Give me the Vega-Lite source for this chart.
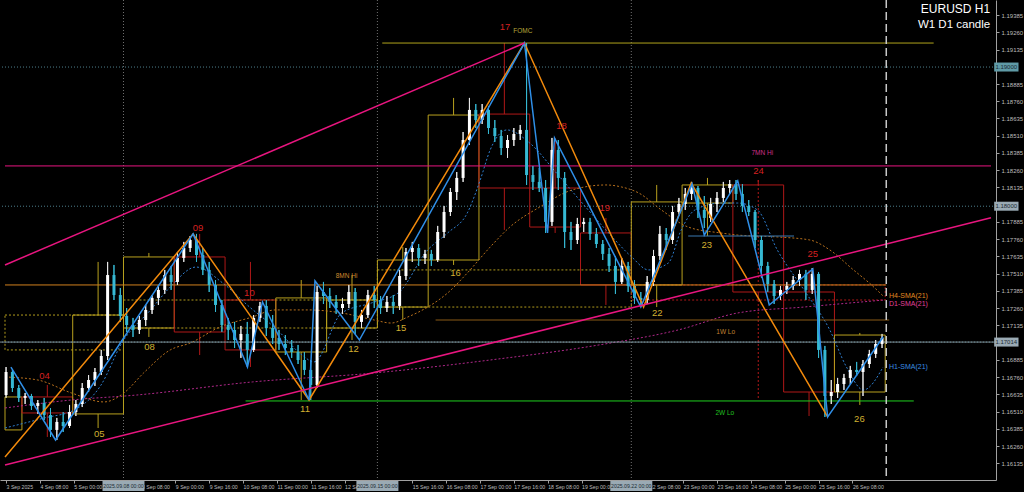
{
"$schema":"https://vega.github.io/schema/vega-lite/v6.json",
"width":996,"height":480,
"autosize":{"type":"none"},
"padding":{"left":0,"top":0,"right":28,"bottom":12},
"background":"#000000",
"config":{"view":{"stroke":null},
 "axis":{"grid":false,"labelOverlap":false,"labelFont":"Liberation Sans","labelColor":"#bcbcbc","tickColor":"#a0a0a0","tickSize":3,"domainColor":"#a0a0a0","labelBound":false,"labelFlush":false},
 "axisX":{"labelAlign":"left","labelBaseline":"top","labelPadding":1,"labelFontSize":5.2},
 "axisY":{"labelAlign":"left","labelBaseline":"middle","labelPadding":2,"labelFontSize":6}},
"resolve":{"scale":{"color":"independent","size":"independent"}},
"datasets":{
"candles":[
{"i":0,"o":1.16630,"h":1.16833,"l":1.16609,"c":1.16797},
{"i":3,"o":1.16797,"h":1.16812,"l":1.16652,"c":1.16681},
{"i":6,"o":1.16681,"h":1.16703,"l":1.16580,"c":1.16609},
{"i":9,"o":1.16609,"h":1.16645,"l":1.16565,"c":1.16623},
{"i":12,"o":1.16623,"h":1.16638,"l":1.16522,"c":1.16551},
{"i":15,"o":1.16551,"h":1.16594,"l":1.16493,"c":1.16572},
{"i":18,"o":1.16572,"h":1.16609,"l":1.16449,"c":1.16485},
{"i":21,"o":1.16485,"h":1.16536,"l":1.16326,"c":1.16377},
{"i":24,"o":1.16377,"h":1.16464,"l":1.16304,"c":1.16435},
{"i":27,"o":1.16435,"h":1.16507,"l":1.16362,"c":1.16406},
{"i":30,"o":1.16406,"h":1.16558,"l":1.16391,"c":1.16507},
{"i":33,"o":1.16507,"h":1.16594,"l":1.16478,"c":1.16565},
{"i":36,"o":1.16565,"h":1.16717,"l":1.16543,"c":1.16681},
{"i":39,"o":1.16681,"h":1.16775,"l":1.16652,"c":1.16739},
{"i":42,"o":1.16739,"h":1.16826,"l":1.16696,"c":1.16797},
{"i":45,"o":1.16797,"h":1.16957,"l":1.16775,"c":1.16913},
{"i":48,"o":1.16913,"h":1.17595,"l":1.16884,"c":1.17500},
{"i":51,"o":1.17500,"h":1.17573,"l":1.17319,"c":1.17355},
{"i":54,"o":1.17355,"h":1.17406,"l":1.17160,"c":1.17203},
{"i":57,"o":1.17203,"h":1.17261,"l":1.17087,"c":1.17138},
{"i":60,"o":1.17138,"h":1.17189,"l":1.17051,"c":1.17102},
{"i":63,"o":1.17102,"h":1.17203,"l":1.17073,"c":1.17174},
{"i":66,"o":1.17174,"h":1.17283,"l":1.17131,"c":1.17247},
{"i":69,"o":1.17247,"h":1.17355,"l":1.17218,"c":1.17334},
{"i":72,"o":1.17334,"h":1.17428,"l":1.17283,"c":1.17392},
{"i":75,"o":1.17392,"h":1.17537,"l":1.17363,"c":1.17500},
{"i":78,"o":1.17500,"h":1.17566,"l":1.17392,"c":1.17450},
{"i":81,"o":1.17450,"h":1.17667,"l":1.17428,"c":1.17624},
{"i":84,"o":1.17624,"h":1.17740,"l":1.17595,"c":1.17696},
{"i":87,"o":1.17696,"h":1.17783,"l":1.17667,"c":1.17754},
{"i":90,"o":1.17754,"h":1.17798,"l":1.17595,"c":1.17645},
{"i":93,"o":1.17645,"h":1.17696,"l":1.17500,"c":1.17537},
{"i":96,"o":1.17537,"h":1.17595,"l":1.17377,"c":1.17428},
{"i":99,"o":1.17428,"h":1.17464,"l":1.17232,"c":1.17283},
{"i":102,"o":1.17283,"h":1.17319,"l":1.17087,"c":1.17138},
{"i":105,"o":1.17138,"h":1.17189,"l":1.17029,"c":1.17102},
{"i":108,"o":1.17102,"h":1.17160,"l":1.16971,"c":1.17029},
{"i":111,"o":1.17029,"h":1.17131,"l":1.16899,"c":1.17073},
{"i":114,"o":1.17073,"h":1.17160,"l":1.16833,"c":1.16957},
{"i":117,"o":1.16957,"h":1.17210,"l":1.16942,"c":1.17189},
{"i":120,"o":1.17189,"h":1.17305,"l":1.17160,"c":1.17276},
{"i":123,"o":1.17276,"h":1.17319,"l":1.17058,"c":1.17116},
{"i":126,"o":1.17116,"h":1.17210,"l":1.17000,"c":1.17044},
{"i":129,"o":1.17044,"h":1.17102,"l":1.16957,"c":1.17000},
{"i":132,"o":1.17000,"h":1.17065,"l":1.16920,"c":1.16971},
{"i":135,"o":1.16971,"h":1.17029,"l":1.16899,"c":1.16942},
{"i":138,"o":1.16942,"h":1.16993,"l":1.16855,"c":1.16884},
{"i":141,"o":1.16884,"h":1.16942,"l":1.16775,"c":1.16812},
{"i":144,"o":1.16812,"h":1.16884,"l":1.16594,"c":1.16703},
{"i":147,"o":1.16703,"h":1.17421,"l":1.16681,"c":1.17377},
{"i":150,"o":1.17377,"h":1.17450,"l":1.17290,"c":1.17348},
{"i":153,"o":1.17348,"h":1.17406,"l":1.17261,"c":1.17305},
{"i":156,"o":1.17305,"h":1.17355,"l":1.17218,"c":1.17261},
{"i":159,"o":1.17261,"h":1.17334,"l":1.17218,"c":1.17290},
{"i":162,"o":1.17290,"h":1.17428,"l":1.17261,"c":1.17377},
{"i":165,"o":1.17377,"h":1.17406,"l":1.17073,"c":1.17160},
{"i":168,"o":1.17160,"h":1.17247,"l":1.17116,"c":1.17210},
{"i":171,"o":1.17210,"h":1.17392,"l":1.17189,"c":1.17355},
{"i":174,"o":1.17355,"h":1.17421,"l":1.17261,"c":1.17319},
{"i":177,"o":1.17319,"h":1.17348,"l":1.17218,"c":1.17261},
{"i":180,"o":1.17261,"h":1.17348,"l":1.17232,"c":1.17305},
{"i":183,"o":1.17305,"h":1.17355,"l":1.17218,"c":1.17276},
{"i":186,"o":1.17276,"h":1.17537,"l":1.17247,"c":1.17493},
{"i":189,"o":1.17493,"h":1.17696,"l":1.17464,"c":1.17667},
{"i":192,"o":1.17667,"h":1.17740,"l":1.17595,"c":1.17696},
{"i":195,"o":1.17696,"h":1.17725,"l":1.17566,"c":1.17624},
{"i":198,"o":1.17624,"h":1.17682,"l":1.17580,"c":1.17653},
{"i":201,"o":1.17653,"h":1.17682,"l":1.17566,"c":1.17609},
{"i":204,"o":1.17609,"h":1.17856,"l":1.17595,"c":1.17812},
{"i":207,"o":1.17812,"h":1.18001,"l":1.17769,"c":1.17957},
{"i":210,"o":1.17957,"h":1.18131,"l":1.17928,"c":1.18102},
{"i":213,"o":1.18102,"h":1.18247,"l":1.18044,"c":1.18204},
{"i":216,"o":1.18204,"h":1.18537,"l":1.18175,"c":1.18479},
{"i":219,"o":1.18479,"h":1.18784,"l":1.18443,"c":1.18697},
{"i":222,"o":1.18697,"h":1.18740,"l":1.18566,"c":1.18624},
{"i":225,"o":1.18624,"h":1.18740,"l":1.18595,"c":1.18697},
{"i":228,"o":1.18697,"h":1.18726,"l":1.18523,"c":1.18566},
{"i":231,"o":1.18566,"h":1.18624,"l":1.18465,"c":1.18508},
{"i":234,"o":1.18508,"h":1.18552,"l":1.18370,"c":1.18421},
{"i":237,"o":1.18421,"h":1.18515,"l":1.18349,"c":1.18479},
{"i":240,"o":1.18479,"h":1.18566,"l":1.18436,"c":1.18523},
{"i":243,"o":1.18523,"h":1.18588,"l":1.18479,"c":1.18552},
{"i":246,"o":1.18552,"h":1.19182,"l":1.18153,"c":1.18225},
{"i":249,"o":1.18225,"h":1.18291,"l":1.18117,"c":1.18175},
{"i":252,"o":1.18175,"h":1.18276,"l":1.18102,"c":1.18131},
{"i":255,"o":1.18131,"h":1.18189,"l":1.17805,"c":1.17885},
{"i":258,"o":1.17885,"h":1.18494,"l":1.17856,"c":1.18407},
{"i":261,"o":1.18407,"h":1.18479,"l":1.18117,"c":1.18204},
{"i":264,"o":1.18204,"h":1.18247,"l":1.17696,"c":1.17812},
{"i":267,"o":1.17812,"h":1.17885,"l":1.17682,"c":1.17754},
{"i":270,"o":1.17754,"h":1.17914,"l":1.17725,"c":1.17870},
{"i":273,"o":1.17870,"h":1.17914,"l":1.17812,"c":1.17885},
{"i":276,"o":1.17885,"h":1.17914,"l":1.17754,"c":1.17798},
{"i":279,"o":1.17798,"h":1.17841,"l":1.17696,"c":1.17725},
{"i":282,"o":1.17725,"h":1.17754,"l":1.17609,"c":1.17653},
{"i":285,"o":1.17653,"h":1.17696,"l":1.17522,"c":1.17566},
{"i":288,"o":1.17566,"h":1.17638,"l":1.17363,"c":1.17450},
{"i":291,"o":1.17450,"h":1.17624,"l":1.17435,"c":1.17566},
{"i":294,"o":1.17566,"h":1.17595,"l":1.17377,"c":1.17421},
{"i":297,"o":1.17421,"h":1.17464,"l":1.17290,"c":1.17334},
{"i":300,"o":1.17334,"h":1.17377,"l":1.17268,"c":1.17319},
{"i":303,"o":1.17319,"h":1.17493,"l":1.17290,"c":1.17450},
{"i":306,"o":1.17450,"h":1.17682,"l":1.17421,"c":1.17638},
{"i":309,"o":1.17638,"h":1.17856,"l":1.17609,"c":1.17798},
{"i":312,"o":1.17798,"h":1.17841,"l":1.17682,"c":1.17754},
{"i":315,"o":1.17754,"h":1.18001,"l":1.17725,"c":1.17957},
{"i":318,"o":1.17957,"h":1.18059,"l":1.17943,"c":1.18015},
{"i":321,"o":1.18015,"h":1.18131,"l":1.17972,"c":1.18088},
{"i":324,"o":1.18088,"h":1.18175,"l":1.18044,"c":1.18131},
{"i":327,"o":1.18131,"h":1.18146,"l":1.17914,"c":1.17972},
{"i":330,"o":1.17972,"h":1.18073,"l":1.17841,"c":1.17914},
{"i":333,"o":1.17914,"h":1.18059,"l":1.17885,"c":1.18015},
{"i":336,"o":1.18015,"h":1.18102,"l":1.17957,"c":1.18059},
{"i":339,"o":1.18059,"h":1.18175,"l":1.18030,"c":1.18131},
{"i":342,"o":1.18131,"h":1.18189,"l":1.18088,"c":1.18160},
{"i":345,"o":1.18160,"h":1.18189,"l":1.18044,"c":1.18088},
{"i":348,"o":1.18088,"h":1.18160,"l":1.17957,"c":1.18001},
{"i":351,"o":1.18001,"h":1.18044,"l":1.17928,"c":1.17957},
{"i":354,"o":1.17957,"h":1.17972,"l":1.17696,"c":1.17754},
{"i":357,"o":1.17754,"h":1.17783,"l":1.17479,"c":1.17566},
{"i":360,"o":1.17566,"h":1.17595,"l":1.17377,"c":1.17435},
{"i":363,"o":1.17435,"h":1.17464,"l":1.17290,"c":1.17348},
{"i":366,"o":1.17348,"h":1.17421,"l":1.17319,"c":1.17392},
{"i":369,"o":1.17392,"h":1.17450,"l":1.17363,"c":1.17421},
{"i":372,"o":1.17421,"h":1.17493,"l":1.17392,"c":1.17464},
{"i":375,"o":1.17464,"h":1.17537,"l":1.17421,"c":1.17508},
{"i":378,"o":1.17508,"h":1.17537,"l":1.17319,"c":1.17392},
{"i":381,"o":1.17392,"h":1.17551,"l":1.17363,"c":1.17508},
{"i":384,"o":1.17508,"h":1.17522,"l":1.16899,"c":1.16957},
{"i":387,"o":1.16957,"h":1.16986,"l":1.16471,"c":1.16623},
{"i":390,"o":1.16623,"h":1.16739,"l":1.16565,"c":1.16652},
{"i":393,"o":1.16652,"h":1.16754,"l":1.16609,"c":1.16710},
{"i":396,"o":1.16710,"h":1.16783,"l":1.16667,"c":1.16754},
{"i":399,"o":1.16754,"h":1.16841,"l":1.16710,"c":1.16812},
{"i":402,"o":1.16812,"h":1.16870,"l":1.16768,"c":1.16797},
{"i":405,"o":1.16797,"h":1.16884,"l":1.16623,"c":1.16855},
{"i":408,"o":1.16855,"h":1.16957,"l":1.16826,"c":1.16928},
{"i":411,"o":1.16928,"h":1.17029,"l":1.16899,"c":1.17000},
{"i":414,"o":1.17000,"h":1.17073,"l":1.16971,"c":1.17044}
],
"d1":[
{"d":"3 Sep","i0":-0.5,"i1":7.5,"im":3.5,"hi":1.16616,"top":1.16616,"bot":1.16377,"lo":1.16377,"dir":"up"},
{"d":"4 Sep","i0":7.5,"i1":31.5,"im":19.5,"hi":1.16703,"top":1.16616,"bot":1.16500,"lo":1.16326,"dir":"down"},
{"d":"5 Sep","i0":31.5,"i1":55.5,"im":43.5,"hi":1.17595,"top":1.17210,"bot":1.16493,"lo":1.16391,"dir":"up"},
{"d":"8 Sep","i0":55.5,"i1":79.5,"im":67.5,"hi":1.17660,"top":1.17631,"bot":1.17116,"lo":1.17051,"dir":"up"},
{"d":"9 Sep","i0":79.5,"i1":103.5,"im":91.5,"hi":1.17798,"top":1.17631,"bot":1.17087,"lo":1.16920,"dir":"down"},
{"d":"10 Sep","i0":103.5,"i1":127.5,"im":115.5,"hi":1.17595,"top":1.17319,"bot":1.16957,"lo":1.16833,"dir":"down"},
{"d":"11 Sep","i0":127.5,"i1":151.5,"im":139.5,"hi":1.17464,"top":1.17334,"bot":1.16942,"lo":1.16594,"dir":"up"},
{"d":"12 Sep","i0":151.5,"i1":175.5,"im":163.5,"hi":1.17500,"top":1.17319,"bot":1.17116,"lo":1.17029,"dir":"up"},
{"d":"15 Sep","i0":175.5,"i1":199.5,"im":187.5,"hi":1.17703,"top":1.17609,"bot":1.17268,"lo":1.17174,"dir":"up"},
{"d":"16 Sep","i0":199.5,"i1":223.5,"im":211.5,"hi":1.18784,"top":1.18660,"bot":1.17609,"lo":1.17573,"dir":"up"},
{"d":"17 Sep","i0":223.5,"i1":247.5,"im":235.5,"hi":1.19182,"top":1.18667,"bot":1.18131,"lo":1.17827,"dir":"down"},
{"d":"18 Sep","i0":247.5,"i1":271.5,"im":259.5,"hi":1.18494,"top":1.18131,"bot":1.17848,"lo":1.17805,"dir":"down"},
{"d":"19 Sep","i0":271.5,"i1":295.5,"im":283.5,"hi":1.17914,"top":1.17805,"bot":1.17428,"lo":1.17283,"dir":"down"},
{"d":"22 Sep","i0":295.5,"i1":319.5,"im":307.5,"hi":1.18153,"top":1.18030,"bot":1.17428,"lo":1.17268,"dir":"up"},
{"d":"23 Sep","i0":319.5,"i1":343.5,"im":331.5,"hi":1.18204,"top":1.18153,"bot":1.18022,"lo":1.17783,"dir":"up"},
{"d":"24 Sep","i0":343.5,"i1":367.5,"im":355.5,"hi":1.18189,"top":1.18153,"bot":1.17377,"lo":1.17319,"dir":"down"},
{"d":"25 Sep","i0":367.5,"i1":391.5,"im":379.5,"hi":1.17537,"top":1.17377,"bot":1.16652,"lo":1.16478,"dir":"down"},
{"d":"26 Sep","i0":391.5,"i1":415.5,"im":403.5,"hi":1.17080,"top":1.17065,"bot":1.16652,"lo":1.16558,"dir":"up"}
],
"w1":[
{"w":"1 Sep","i0":-0.5,"i1":55.5,"im":27.5,"hi":1.17210,"top":1.17210,"bot":1.16957,"lo":1.16957,"dir":"up"},
{"w":"8 Sep","i0":55.5,"i1":175.5,"im":115.5,"hi":1.17319,"top":1.17319,"bot":1.17116,"lo":1.17116,"dir":"up"},
{"w":"15 Sep","i0":175.5,"i1":295.5,"im":235.5,"hi":1.17537,"top":1.17537,"bot":1.17268,"lo":1.17268,"dir":"up"},
{"w":"22 Sep","i0":295.5,"i1":415.5,"im":355.5,"hi":1.18189,"top":1.17428,"bot":1.17319,"lo":1.16594,"dir":"down"}
],
"lines":[
{"name":"orange","i":-0.5,"p":1.16181},{"name":"orange","i":88.4,"p":1.17798},{"name":"orange","i":143.2,"p":1.16594},{"name":"orange","i":245,"p":1.19182},{"name":"orange","i":301.3,"p":1.17268},{"name":"orange","i":323.8,"p":1.18167},{"name":"orange","i":388.3,"p":1.16471},
{"name":"blue","i":2.3,"p":1.16833},{"name":"blue","i":23.4,"p":1.16304},{"name":"blue","i":88.4,"p":1.17798},{"name":"blue","i":114.1,"p":1.16833},{"name":"blue","i":121.2,"p":1.17305},{"name":"blue","i":143.2,"p":1.16594},{"name":"blue","i":146,"p":1.17457},{"name":"blue","i":167,"p":1.17029},{"name":"blue","i":245,"p":1.19182},{"name":"blue","i":255.9,"p":1.17805},{"name":"blue","i":259.2,"p":1.18494},{"name":"blue","i":300,"p":1.17268},{"name":"blue","i":324.2,"p":1.18160},{"name":"blue","i":330,"p":1.17790},{"name":"blue","i":345.8,"p":1.18182},{"name":"blue","i":360.7,"p":1.17283},{"name":"blue","i":381.3,"p":1.17544},{"name":"blue","i":388.3,"p":1.16471},{"name":"blue","i":414.5,"p":1.17051},
{"name":"tl1","i":-0.5,"p":1.17573},{"name":"tl1","i":245,"p":1.19182},
{"name":"tl2","i":-0.5,"p":1.16123},{"name":"tl2","i":465.5,"p":1.17915}
],
"sma":[
{"name":"H1","i":-0.5,"p":1.16391},{"name":"H1","i":18.2,"p":1.16464},{"name":"H1","i":32.3,"p":1.16522},{"name":"H1","i":44.9,"p":1.16703},{"name":"H1","i":54.7,"p":1.17007},{"name":"H1","i":68.3,"p":1.17247},{"name":"H1","i":77.6,"p":1.17413},{"name":"H1","i":89.8,"p":1.17558},{"name":"H1","i":102.4,"p":1.17442},{"name":"H1","i":115.1,"p":1.17268},{"name":"H1","i":128.2,"p":1.17102},{"name":"H1","i":139.9,"p":1.16920},{"name":"H1","i":145.5,"p":1.16870},{"name":"H1","i":158.6,"p":1.17225},{"name":"H1","i":172.6,"p":1.17297},{"name":"H1","i":185.3,"p":1.17370},{"name":"H1","i":199.3,"p":1.17682},{"name":"H1","i":208.7,"p":1.17805},{"name":"H1","i":218,"p":1.17950},{"name":"H1","i":224.1,"p":1.18189},{"name":"H1","i":228.8,"p":1.18407},{"name":"H1","i":236.7,"p":1.18552},{"name":"H1","i":247.5,"p":1.18457},{"name":"H1","i":260.1,"p":1.18240},{"name":"H1","i":272.3,"p":1.18022},{"name":"H1","i":283.5,"p":1.17827},{"name":"H1","i":295.7,"p":1.17631},{"name":"H1","i":303.6,"p":1.17537},{"name":"H1","i":313,"p":1.17587},{"name":"H1","i":319.1,"p":1.17827},{"name":"H1","i":325.6,"p":1.17972},{"name":"H1","i":337.8,"p":1.18022},{"name":"H1","i":345.8,"p":1.18022},{"name":"H1","i":355.1,"p":1.17972},{"name":"H1","i":364.5,"p":1.17682},{"name":"H1","i":377.1,"p":1.17392},{"name":"H1","i":389.3,"p":1.17102},{"name":"H1","i":397.2,"p":1.16833},{"name":"H1","i":405.2,"p":1.16667},{"name":"H1","i":414.5,"p":1.16833},
{"name":"H4","i":-0.5,"p":1.16761},{"name":"H4","i":15,"p":1.16739},{"name":"H4","i":30.9,"p":1.16645},{"name":"H4","i":46.3,"p":1.16580},{"name":"H4","i":55.7,"p":1.16645},{"name":"H4","i":65,"p":1.16790},{"name":"H4","i":77.6,"p":1.16957},{"name":"H4","i":87,"p":1.17007},{"name":"H4","i":101,"p":1.17123},{"name":"H4","i":116.5,"p":1.17196},{"name":"H4","i":127.2,"p":1.17247},{"name":"H4","i":143.1,"p":1.17247},{"name":"H4","i":158.6,"p":1.17225},{"name":"H4","i":174,"p":1.17174},{"name":"H4","i":182,"p":1.17152},{"name":"H4","i":189.9,"p":1.17196},{"name":"H4","i":199.3,"p":1.17268},{"name":"H4","i":208.7,"p":1.17370},{"name":"H4","i":218,"p":1.17515},{"name":"H4","i":228.8,"p":1.17703},{"name":"H4","i":238.1,"p":1.17848},{"name":"H4","i":252.2,"p":1.17993},{"name":"H4","i":267.6,"p":1.18117},{"name":"H4","i":283.5,"p":1.18153},{"name":"H4","i":291,"p":1.18138},{"name":"H4","i":299,"p":1.18095},{"name":"H4","i":309.7,"p":1.17972},{"name":"H4","i":322.4,"p":1.17848},{"name":"H4","i":337.8,"p":1.17805},{"name":"H4","i":345.8,"p":1.17790},{"name":"H4","i":364.5,"p":1.17776},{"name":"H4","i":379.9,"p":1.17754},{"name":"H4","i":389.3,"p":1.17682},{"name":"H4","i":400.5,"p":1.17537},{"name":"H4","i":408,"p":1.17442},{"name":"H4","i":415,"p":1.17341},
{"name":"D1","i":-0.5,"p":1.16536},{"name":"D1","i":30.9,"p":1.16594},{"name":"D1","i":61.7,"p":1.16630},{"name":"D1","i":116.5,"p":1.16725},{"name":"D1","i":174,"p":1.16790},{"name":"D1","i":228.8,"p":1.16884},{"name":"D1","i":280.2,"p":1.16993},{"name":"D1","i":317.7,"p":1.17102},{"name":"D1","i":345.8,"p":1.17225},{"name":"D1","i":377.1,"p":1.17268},{"name":"D1","i":415,"p":1.17319}
],
"hl":[
{"name":"FOMC","i0":177.8,"i1":438.4,"p":1.19182},
{"name":"7MN","i0":-0.5,"i1":465.5,"p":1.18291},
{"name":"8MN","i0":-0.5,"i1":416,"p":1.17428},
{"name":"1W","i0":203,"i1":417.4,"p":1.17174},
{"name":"2W","i0":113.2,"i1":429,"p":1.16587},
{"name":"S23","i0":322.4,"i1":372.4,"p":1.17783}
],
"grid":[{"p":1.19008},{"p":1.17999},{"p":1.17014}],
"vl":[{"i":55.5,"k":"sep"},{"i":175.5,"k":"sep"},{"i":295.5,"k":"sep"},{"i":416,"k":"now"}],
"xtags":[
{"t":"2025.09.08 00:00","i":55.5,"p0":1.16006,"p1":1.15935,"pm":1.15970},
{"t":"2025.09.15 00:00","i":175.5,"p0":1.16006,"p1":1.15935,"pm":1.15970},
{"t":"2025.09.22 00:00","i":295.5,"p0":1.16006,"p1":1.15935,"pm":1.15970}
],
"ytags":[
{"t":"1.19000","i0":467,"i1":478.5,"im":467.6,"p":1.19008,"k":"a"},
{"t":"1.18000","i0":467,"i1":478.5,"im":467.6,"p":1.17999,"k":"b"},
{"t":"1.17014","i0":467,"i1":478.5,"im":467.6,"p":1.17014,"k":"b"}
],
"labels":[
{"t":"04","i":18.2,"p":1.16768,"k":"rn"},
{"t":"09","i":90.7,"p":1.17841,"k":"rn"},
{"t":"10","i":115,"p":1.17370,"k":"rn"},
{"t":"17","i":235.8,"p":1.19298,"k":"rn"},
{"t":"18","i":262.5,"p":1.18581,"k":"rn"},
{"t":"19","i":283,"p":1.17986,"k":"rn"},
{"t":"24","i":355.6,"p":1.18254,"k":"rn"},
{"t":"25","i":381.3,"p":1.17653,"k":"rn"},
{"t":"05","i":44,"p":1.16348,"k":"yn"},
{"t":"08","i":67.8,"p":1.16978,"k":"yn"},
{"t":"11","i":141.3,"p":1.16529,"k":"yn"},
{"t":"12","i":164.2,"p":1.16964,"k":"yn"},
{"t":"15","i":186.7,"p":1.17116,"k":"yn"},
{"t":"16","i":212.4,"p":1.17515,"k":"yn"},
{"t":"22","i":307.8,"p":1.17225,"k":"yn"},
{"t":"23","i":331.2,"p":1.17718,"k":"yn"},
{"t":"26","i":403.3,"p":1.16456,"k":"yn"}
],
"tags":[
{"t":"FOMC","i":244.2,"p":1.19269,"k":"FOMC"},
{"t":"8MN Hi","i":160.9,"p":1.17493,"k":"8MN"},
{"t":"7MN Hi","i":357.4,"p":1.18385,"k":"7MN"},
{"t":"1W Lo","i":340.1,"p":1.17087,"k":"1W"},
{"t":"2W Lo","i":339.7,"p":1.16500,"k":"2W"}
],
"smatags":[
{"t":"H4-SMA(21)","i":417.3,"p":1.17345,"k":"H4"},
{"t":"D1-SMA(21)","i":417.3,"p":1.17290,"k":"D1"},
{"t":"H1-SMA(21)","i":417.3,"p":1.16833,"k":"H1"}
],
"title":[
{"t":"EURUSD H1","i":465.1,"p":1.19429,"k":"T1"},
{"t":"W1 D1 candle","i":465.1,"p":1.19313,"k":"T2"}
]
},
"layer":[
{"data":{"name":"candles"},
 "mark":{"type":"rule","strokeWidth":1},
 "encoding":{
  "x":{"field":"i","type":"quantitative","title":null,"scale":{"domain":[-0.5,465.5],"nice":false,"zero":false},
   "axis":{"orient":"bottom","tickCount":60,"values":[0,16,32,64,80,96,112,128,144,160,192,208,224,240,256,272,304,320,336,352,368,384,400],
    "labelExpr":"['3 Sep 2025','4 Sep 08:00','5 Sep 00:00','5 Sep 16:00','8 Sep 08:00','9 Sep 00:00','9 Sep 16:00','10 Sep 08:00','11 Sep 00:00','11 Sep 16:00','12 Sep 08:00','15 Sep 00:00','15 Sep 16:00','16 Sep 08:00','17 Sep 00:00','17 Sep 16:00','18 Sep 08:00','19 Sep 00:00','19 Sep 16:00','22 Sep 08:00','23 Sep 00:00','23 Sep 16:00','24 Sep 08:00','25 Sep 00:00','25 Sep 16:00','26 Sep 08:00'][round(datum.value/16)]",
    "title":null}},
  "y":{"field":"l","type":"quantitative","title":null,"scale":{"domain":[1.16014,1.19494],"nice":false,"zero":false},
   "axis":{"orient":"right","tickCount":60,"values":[1.16135,1.1626,1.16385,1.1651,1.16635,1.1676,1.16885,1.17135,1.1726,1.17385,1.1751,1.17635,1.1776,1.17885,1.18135,1.1826,1.18385,1.1851,1.18635,1.1876,1.18885,1.19135,1.1926,1.19385],
    "format":".5f","title":null}},
  "y2":{"field":"h"},
  "color":{"condition":{"test":"datum.c>=datum.o","value":"#e8e8e8"},"value":"#36b9d3"}}},
{"data":{"name":"vl"},"transform":[{"filter":"datum.k=='sep'"}],
 "mark":{"type":"rule","color":"#707070","strokeDash":[1,2],"strokeWidth":1},
 "encoding":{"x":{"field":"i","type":"quantitative","title":null}}},
{"data":{"name":"grid"},
 "mark":{"type":"rule","color":"#4d7f8c","strokeDash":[1,2],"strokeWidth":1},
 "encoding":{"y":{"field":"p","type":"quantitative","title":null}}},
{"data":{"name":"w1"},
 "mark":{"type":"rect","filled":false,"strokeDash":[2,2],"strokeWidth":1},
 "encoding":{"x":{"field":"i0","type":"quantitative","title":null},"x2":{"field":"i1"},"y":{"field":"top","type":"quantitative","title":null},"y2":{"field":"bot"},
  "stroke":{"condition":{"test":"datum.dir=='up'","value":"#b09a1c"},"value":"#b01818"}}},
{"data":{"name":"w1"},
 "mark":{"type":"rule","strokeDash":[2,2],"strokeWidth":1},
 "encoding":{"x":{"field":"im","type":"quantitative","title":null},"y":{"field":"hi","type":"quantitative","title":null},"y2":{"field":"top"},
  "color":{"condition":{"test":"datum.dir=='up'","value":"#b09a1c"},"value":"#b01818"}}},
{"data":{"name":"w1"},
 "mark":{"type":"rule","strokeDash":[2,2],"strokeWidth":1},
 "encoding":{"x":{"field":"im","type":"quantitative","title":null},"y":{"field":"bot","type":"quantitative","title":null},"y2":{"field":"lo"},
  "color":{"condition":{"test":"datum.dir=='up'","value":"#b09a1c"},"value":"#b01818"}}},
{"data":{"name":"d1"},
 "mark":{"type":"rect","filled":false,"strokeWidth":1},
 "encoding":{"x":{"field":"i0","type":"quantitative","title":null},"x2":{"field":"i1"},"y":{"field":"top","type":"quantitative","title":null},"y2":{"field":"bot"},
  "stroke":{"condition":{"test":"datum.dir=='up'","value":"#b8a01e"},"value":"#b01818"}}},
{"data":{"name":"d1"},
 "mark":{"type":"rule","strokeWidth":1},
 "encoding":{"x":{"field":"im","type":"quantitative","title":null},"y":{"field":"hi","type":"quantitative","title":null},"y2":{"field":"top"},
  "color":{"condition":{"test":"datum.dir=='up'","value":"#b8a01e"},"value":"#b01818"}}},
{"data":{"name":"d1"},
 "mark":{"type":"rule","strokeWidth":1},
 "encoding":{"x":{"field":"im","type":"quantitative","title":null},"y":{"field":"bot","type":"quantitative","title":null},"y2":{"field":"lo"},
  "color":{"condition":{"test":"datum.dir=='up'","value":"#b8a01e"},"value":"#b01818"}}},
{"data":{"name":"sma"},
 "mark":{"type":"line","strokeDash":[2,2],"strokeWidth":1,"interpolate":"monotone"},
 "encoding":{"x":{"field":"i","type":"quantitative","title":null},"y":{"field":"p","type":"quantitative","title":null},
  "color":{"field":"name","type":"nominal","scale":{"domain":["H1","H4","D1"],"range":["#2f7fd0","#b8701c","#b0288a"]},"legend":null}}},
{"data":{"name":"hl"},
 "mark":{"type":"rule","strokeWidth":1},
 "encoding":{"x":{"field":"i0","type":"quantitative","title":null},"x2":{"field":"i1"},"y":{"field":"p","type":"quantitative","title":null},
  "color":{"field":"name","type":"nominal","scale":{"domain":["FOMC","7MN","8MN","1W","2W","S23"],"range":["#b0a41c","#e8157f","#d2801e","#8a5a16","#1fcf1f","#3a78b0"]},"legend":null}}},
{"data":{"name":"grid"},"transform":[{"filter":"datum.p<1.171"}],
 "mark":{"type":"rule","color":"#7f8f96","strokeWidth":1},
 "encoding":{"y":{"field":"p","type":"quantitative","title":null}}},
{"data":{"name":"candles"},
 "mark":{"type":"rule","strokeWidth":1},
 "encoding":{"x":{"field":"i","type":"quantitative","title":null},"y":{"field":"l","type":"quantitative","title":null},"y2":{"field":"h"},
  "color":{"condition":{"test":"datum.c>=datum.o","value":"#e8e8e8"},"value":"#36b9d3"}}},
{"data":{"name":"candles"},
 "mark":{"type":"bar","width":3},
 "encoding":{"x":{"field":"i","type":"quantitative","title":null},"y":{"field":"o","type":"quantitative","title":null},"y2":{"field":"c"},
  "color":{"condition":{"test":"datum.c>=datum.o","value":"#ffffff"},"value":"#36b9d3"}}},
{"data":{"name":"lines"},
 "mark":{"type":"line","strokeWidth":1.5},
 "encoding":{"x":{"field":"i","type":"quantitative","title":null},"y":{"field":"p","type":"quantitative","title":null},
  "color":{"field":"name","type":"nominal","scale":{"domain":["orange","blue","tl1","tl2"],"range":["#f28a0c","#2f8fe8","#e8157f","#e8157f"]},"legend":null}}},
{"data":{"name":"vl"},"transform":[{"filter":"datum.k=='now'"}],
 "mark":{"type":"rule","color":"#c8c8c8","strokeDash":[8,4],"strokeWidth":1.5},
 "encoding":{"x":{"field":"i","type":"quantitative","title":null}}},
{"data":{"name":"xtags"},
 "mark":{"type":"rect","color":"#9aaab4","width":42,"clip":false},
 "encoding":{"x":{"field":"i","type":"quantitative","title":null},"y":{"field":"p0","type":"quantitative","title":null},"y2":{"field":"p1"}}},
{"data":{"name":"xtags"},
 "mark":{"type":"text","font":"Liberation Sans","fontSize":5.2,"color":"#1a2a33","align":"center","baseline":"middle","clip":false},
 "encoding":{"x":{"field":"i","type":"quantitative","title":null},"y":{"field":"pm","type":"quantitative","title":null},"text":{"field":"t"}}},
{"data":{"name":"ytags"},
 "mark":{"type":"rect","height":9,"clip":false},
 "encoding":{"x":{"field":"i0","type":"quantitative","title":null},"x2":{"field":"i1"},"y":{"field":"p","type":"quantitative","title":null},
  "color":{"field":"k","type":"nominal","scale":{"domain":["a","b"],"range":["#5f9aa6","#9aaab4"]},"legend":null}}},
{"data":{"name":"ytags"},
 "mark":{"type":"text","font":"Liberation Sans","fontSize":6,"color":"#1a2a33","align":"left","baseline":"middle","clip":false},
 "encoding":{"x":{"field":"im","type":"quantitative","title":null},"y":{"field":"p","type":"quantitative","title":null},"text":{"field":"t"}}},
{"data":{"name":"labels"},
 "mark":{"type":"text","font":"Liberation Sans","fontSize":9.5,"align":"center","baseline":"middle"},
 "encoding":{"x":{"field":"i","type":"quantitative","title":null},"y":{"field":"p","type":"quantitative","title":null},"text":{"field":"t"},
  "color":{"field":"k","type":"nominal","scale":{"domain":["rn","yn"],"range":["#d42020","#d2b030"]},"legend":null}}},
{"data":{"name":"tags"},
 "mark":{"type":"text","font":"Liberation Sans","fontSize":6.5,"align":"center","baseline":"middle"},
 "encoding":{"x":{"field":"i","type":"quantitative","title":null},"y":{"field":"p","type":"quantitative","title":null},"text":{"field":"t"},
  "color":{"field":"k","type":"nominal","scale":{"domain":["FOMC","8MN","7MN","1W","2W"],"range":["#b8a83a","#d08a30","#d0308a","#c08030","#20c020"]},"legend":null}}},
{"data":{"name":"smatags"},
 "mark":{"type":"text","font":"Liberation Sans","fontSize":7,"align":"left","baseline":"middle"},
 "encoding":{"x":{"field":"i","type":"quantitative","title":null},"y":{"field":"p","type":"quantitative","title":null},"text":{"field":"t"},
  "color":{"field":"k","type":"nominal","scale":{"domain":["H4","D1","H1"],"range":["#e08a20","#e0409a","#3a8ee0"]},"legend":null}}},
{"data":{"name":"title"},
 "mark":{"type":"text","font":"Liberation Sans","align":"right","baseline":"middle","color":"#ffffff"},
 "encoding":{"x":{"field":"i","type":"quantitative","title":null},"y":{"field":"p","type":"quantitative","title":null},"text":{"field":"t"},
  "size":{"field":"k","type":"nominal","scale":{"domain":["T1","T2"],"range":[12,11.5]},"legend":null}}}
]
}
